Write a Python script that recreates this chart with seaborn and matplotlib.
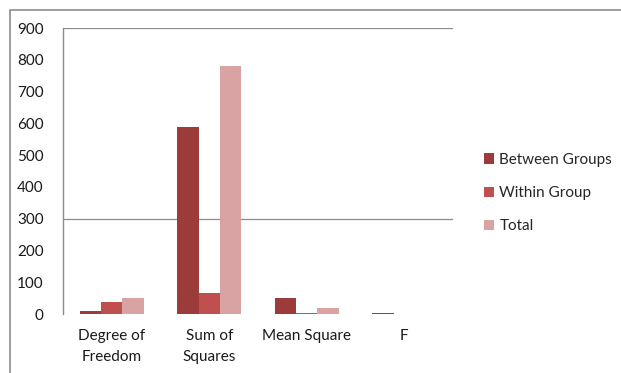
import matplotlib
matplotlib.use("Agg")
import matplotlib.pyplot as plt
import seaborn as sns
import pandas as pd
from matplotlib.patches import Rectangle, Patch

categories = ["Degree of\nFreedom", "Sum of\nSquares", "Mean Square", "F"]
series = ["Between Groups", "Within Group", "Total"]
between_groups = [10, 589, 50, 3]
within_group = [38, 67, 2, 0]
total = [49, 781, 18, 0]
colors = ["#9B3B3A", "#C0504D", "#D9A3A3"]

rows = []
for name, vals in zip(series, [between_groups, within_group, total]):
    for cat, v in zip(categories, vals):
        rows.append({"category": cat, "series": name, "value": v})
df = pd.DataFrame(rows)

sns.set_theme(style="white")
plt.rcParams["font.family"] = ["Lato", "DejaVu Sans"]

fig = plt.figure(figsize=(6.21, 3.73), dpi=100)
ax = fig.add_axes([63 / 621, (373 - 314) / 373, (453 - 63) / 621, (314 - 28) / 373])

sns.barplot(data=df, x="category", y="value", hue="series", palette=colors,
            width=0.66, saturation=1, ax=ax, legend=False,
            linewidth=0, edgecolor="none")

ax.set_ylim(0, 900)
ax.set_xlim(-0.5, 3.5)
ax.set_yticks(range(0, 901, 100))
ax.set_xlabel("")
ax.set_ylabel("")

# horizontal gridlines
for yv in (300, 900):
    ax.axhline(yv, color="#8C8C8C", lw=0.9, zorder=0)

for s in ["top", "right", "bottom"]:
    ax.spines[s].set_visible(False)
ax.spines["left"].set_color("#8C8C8C")
ax.spines["left"].set_linewidth(1.0)

ax.tick_params(axis="y", length=0, pad=14, labelsize=11, labelcolor="#1A1A1A")
ax.tick_params(axis="x", length=0, pad=11, labelsize=11, labelcolor="#1A1A1A")
ax.set_xticks([-0.5, 0.5, 1.5, 2.5, 3.5], minor=True)
ax.tick_params(axis="x", which="minor", length=4, color="#BBBBBB", width=1, direction="out")
for lbl in ax.get_xticklabels():
    lbl.set_linespacing(1.6)

handles = [Patch(facecolor=c, edgecolor="none") for c in colors]
fig.legend(handles, series, loc="center left", bbox_to_anchor=(478 / 621, 1 - 193 / 373),
           frameon=False, fontsize=11, handlelength=0.65, handleheight=0.65,
           handletextpad=0.35, labelspacing=1.25, borderaxespad=0)

# outer chart frame
fig.patches.append(Rectangle((10 / 621, -0.1), 1.2, 1 - 10 / 373 + 0.1,
                             transform=fig.transFigure, fill=False,
                             edgecolor="#8C8C8C", lw=1.2))

fig.savefig("out.png", dpi=100)
